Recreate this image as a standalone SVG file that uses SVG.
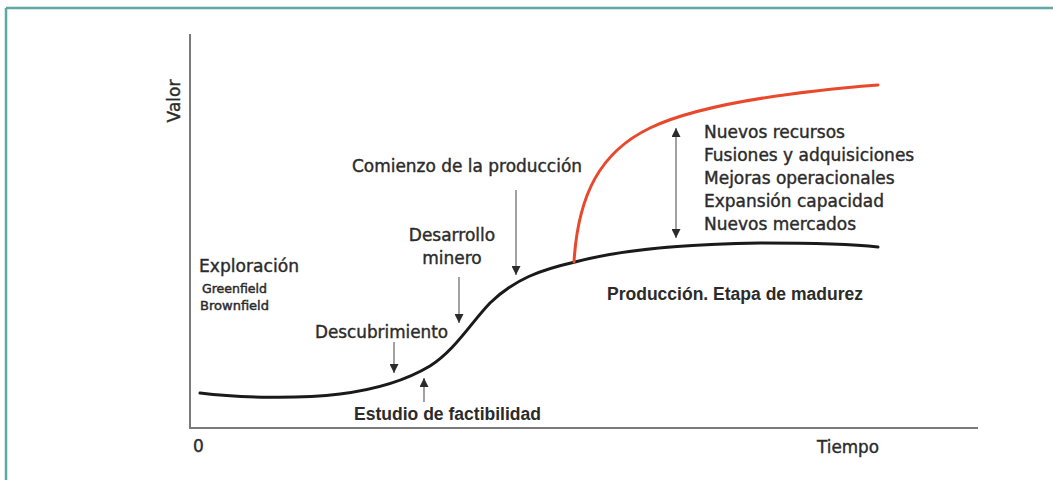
<svg xmlns="http://www.w3.org/2000/svg" width="1053" height="480" viewBox="0 0 1053 480">
<style>
.frame{stroke:#5ea9a4;stroke-width:2.5;fill:none}
.axis{stroke:#7a7a7a;stroke-width:2;fill:none}
.curve{stroke:#1a1a1a;stroke-width:3;fill:none;stroke-linecap:round}
.red{stroke:#e8482b;stroke-width:3;fill:none;stroke-linecap:round}
.arr{stroke:#7a7a7a;stroke-width:1.4;fill:none}
.t{font-family:"DejaVu Sans",sans-serif;font-size:17px;fill:#2b2b2b;stroke:#2b2b2b;stroke-width:0.4}
.s{font-family:"DejaVu Sans",sans-serif;font-size:12.5px;fill:#2b2b2b;stroke:#2b2b2b;stroke-width:0.45}
.b{font-family:"Liberation Sans",Arial,sans-serif;font-size:17.5px;font-weight:bold;fill:#2b2b2b}
</style>
<defs>
<marker id="ah" viewBox="0 0 10 10" refX="10" refY="5" markerUnits="userSpaceOnUse" markerWidth="10" markerHeight="9" orient="auto-start-reverse">
<path d="M0,0 L10,5 L0,10 z" fill="#2b2b2b"/>
</marker>
</defs>
<g id="frame">
<line class="frame" x1="6" y1="8" x2="1053" y2="8"/>
<line class="frame" x1="6" y1="8" x2="6" y2="480"/>
</g>
<g id="axes">
<polyline class="axis" points="190,34 190,428 978,428"/>
<text class="t" transform="translate(180,101) rotate(-90)" text-anchor="middle">Valor</text>
<text class="t" x="193" y="452">0</text>
<text class="t" x="817" y="453" textLength="62" lengthAdjust="spacingAndGlyphs">Tiempo</text>
</g>
<g id="curves">
<path id="base-curve" class="curve" d="M200,393 C240,398 300,399 340,394 C380,389 410,378 430,366 C455,350 470,324 490,303 C515,279 540,270 575,262 C620,250 680,244 760,243 C820,243 860,245 878,247"/>
<path id="growth-curve" class="red" d="M574,262 C578,195 600,152 650,128 C700,104 790,92 878,85"/>
</g>
<g id="connectors">
<line class="arr" x1="516" y1="190" x2="516" y2="275" marker-end="url(#ah)"/>
<line class="arr" x1="459" y1="277" x2="459" y2="323" marker-end="url(#ah)"/>
<line class="arr" x1="394" y1="342" x2="394" y2="373" marker-end="url(#ah)"/>
<line class="arr" x1="424" y1="402" x2="424" y2="378" marker-end="url(#ah)"/>
<line class="arr" x1="676" y1="128" x2="676" y2="238" marker-start="url(#ah)" marker-end="url(#ah)"/>
</g>
<g id="exploracion">
<text class="t" x="199" y="272" textLength="100" lengthAdjust="spacingAndGlyphs">Exploración</text>
<text class="s" x="202" y="293" textLength="65" lengthAdjust="spacingAndGlyphs">Greenfield</text>
<text class="s" x="200" y="310" textLength="69" lengthAdjust="spacingAndGlyphs">Brownfield</text>
</g>
<g id="descubrimiento">
<text class="t" x="315" y="338" textLength="133" lengthAdjust="spacingAndGlyphs">Descubrimiento</text>
</g>
<g id="estudio">
<text class="b" x="354" y="420" textLength="187" lengthAdjust="spacingAndGlyphs">Estudio de factibilidad</text>
</g>
<g id="desarrollo">
<text class="t" x="452" y="241" text-anchor="middle">Desarrollo</text>
<text class="t" x="452" y="264" text-anchor="middle">minero</text>
</g>
<g id="comienzo">
<text class="t" x="352" y="172" textLength="230" lengthAdjust="spacingAndGlyphs">Comienzo de la producción</text>
</g>
<g id="madurez">
<text class="b" x="607" y="300" textLength="256" lengthAdjust="spacingAndGlyphs">Producción. Etapa de madurez</text>
</g>
<g id="opciones">
<text class="t" x="704" y="138">Nuevos recursos</text>
<text class="t" x="704" y="161">Fusiones y adquisiciones</text>
<text class="t" x="704" y="184">Mejoras operacionales</text>
<text class="t" x="704" y="207">Expansión capacidad</text>
<text class="t" x="704" y="230">Nuevos mercados</text>
</g>
</svg>
